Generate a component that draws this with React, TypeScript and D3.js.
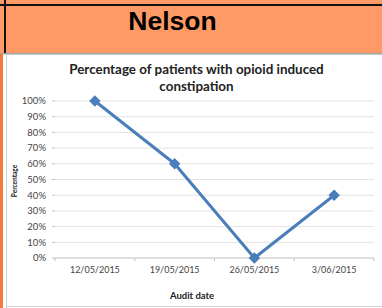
import * as React from 'react';
import * as d3 from 'd3';

const dates = ['12/05/2015', '19/05/2015', '26/05/2015', '3/06/2015'];
const percentages = [1.0, 0.6, 0.0, 0.4];
const yTicks = [0, 0.1, 0.2, 0.3, 0.4, 0.5, 0.6, 0.7, 0.8, 0.9, 1.0];

const W = 382;
const H = 308;
const LINE = '#4a7ebb';
const FONT = 'Lato, "Open Sans", sans-serif';

export default function App() {
  const left = 55;
  const right = 374;
  const top = 101;
  const bottom = 258;

  const x = d3.scaleBand<string>().domain(dates).range([left, right]);
  const y = d3.scaleLinear().domain([0, 1]).range([bottom, top]);

  const line = d3
    .line<number>()
    .x((_, i) => (x(dates[i]) ?? 0) + x.bandwidth() / 2)
    .y((d) => y(d));

  const diamond = d3.symbol().type(d3.symbolDiamond2).size(85)() || '';

  return (
    <svg
      width={W}
      height={H}
      style={{ position: 'absolute', left: 0, top: 0, display: 'block' }}
    >
      <rect x={0} y={0} width={W} height={H} fill="#fff" />

      {/* header band */}
      <rect x={0} y={0} width={W} height={54} fill="#ff9a66" />
      <rect x={0} y={4} width={W} height={2} fill="#111" />
      <rect x={4} y={0} width={2} height={54} fill="#111" />
      <rect x={0} y={53} width={W} height={1.5} fill="#a0a0a0" />
      <text
        x={172.5}
        y={30}
        textAnchor="middle"
        fontFamily='Arial, "Liberation Sans", sans-serif'
        fontWeight="700"
        fontSize={26.5}
        fill="#000"
      >
        Nelson
      </text>

      {/* left orange edge and frame */}
      <rect x={0} y={54} width={3} height={H - 54} fill="#f47b3c" />
      <line x1={6.5} y1={54} x2={6.5} y2={H} stroke="#d0d0d0" />
      <line x1={6} y1={306.5} x2={W} y2={306.5} stroke="#d0d0d0" />

      {/* chart title */}
      <text
        x={196.5}
        y={74}
        textAnchor="middle"
        fontFamily={FONT}
        fontWeight="700"
        fontSize={13.4}
        fill="#222"
      >
        Percentage of patients with opioid induced
      </text>
      <text
        x={196.5}
        y={91}
        textAnchor="middle"
        fontFamily={FONT}
        fontWeight="700"
        fontSize={13.4}
        fill="#222"
      >
        constipation
      </text>

      {/* gridlines */}
      {yTicks.map((t) => (
        <line
          key={t}
          x1={left}
          x2={right}
          y1={y(t)}
          y2={y(t)}
          stroke={t === 0 ? '#bfbfbf' : '#e3e3e3'}
          strokeWidth={1}
        />
      ))}

      {/* y tick labels */}
      {yTicks.map((t) => (
        <text
          key={'l' + t}
          x={46}
          y={y(t)}
          dy="0.35em"
          textAnchor="end"
          fontFamily={FONT}
          fontSize={9.5}
          fill="#444"
        >
          {d3.format('.0%')(t)}
        </text>
      ))}
      {/* y axis ticks */}
      {yTicks.map((t) => (
        <line
          key={'t' + t}
          x1={left - 3}
          x2={left}
          y1={y(t)}
          y2={y(t)}
          stroke="#bfbfbf"
        />
      ))}

      {/* x ticks */}
      {dates.map((d) => (
        <line
          key={'xt' + d}
          x1={x(d) ?? 0}
          x2={x(d) ?? 0}
          y1={bottom}
          y2={bottom + 3}
          stroke="#bfbfbf"
        />
      ))}
      <line x1={right} x2={right} y1={bottom} y2={bottom + 3} stroke="#bfbfbf" />

      {/* x labels */}
      {dates.map((d) => (
        <text
          key={'xl' + d}
          x={(x(d) ?? 0) + x.bandwidth() / 2}
          y={273}
          textAnchor="middle"
          fontFamily={FONT}
          fontSize={9}
          fill="#444"
        >
          {d}
        </text>
      ))}

      {/* axis titles */}
      <text
        x={192}
        y={299}
        textAnchor="middle"
        fontFamily={FONT}
        fontWeight="700"
        fontSize={9.5}
        fill="#222"
      >
        Audit date
      </text>
      <text
        transform={`translate(17,181) rotate(-90)`}
        textAnchor="middle"
        fontFamily={FONT}
        fontWeight="700"
        fontSize={6.5}
        fill="#222"
      >
        Percentage
      </text>

      {/* series */}
      <path
        d={line(percentages) || ''}
        fill="none"
        stroke={LINE}
        strokeWidth={3}
        strokeLinejoin="round"
      />
      {percentages.map((v, i) => (
        <path
          key={'m' + i}
          d={diamond}
          transform={`translate(${(x(dates[i]) ?? 0) + x.bandwidth() / 2},${y(v)})`}
          fill={LINE}
        />
      ))}
    </svg>
  );
}
